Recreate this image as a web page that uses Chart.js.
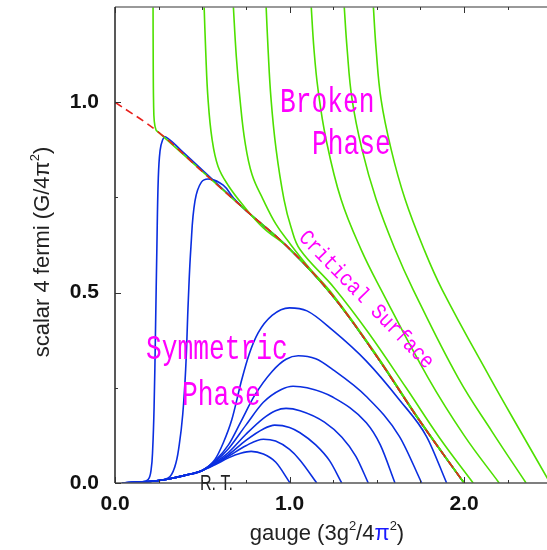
<!DOCTYPE html>
<html>
<head>
<meta charset="utf-8">
<script src="https://cdn.jsdelivr.net/npm/chart.js@4.4.1/dist/chart.umd.min.js"></script>
<style>
  html, body { margin: 0; padding: 0; background: #fff; }
</style>
</head>
<body>
<canvas id="flow" width="547" height="550"></canvas>
<script>
// axis ticks
const xTickValues = [0, 1, 2];
const xTickLabels = ['0.0', '1.0', '2.0'];
const xMinorTicks = [0.25, 0.5, 0.75, 1.25, 1.5, 1.75, 2.25];
const yTickValues = [0, 0.5, 1.0];
const yTickLabels = ['0.0', '0.5', '1.0'];
const yMinorTicks = [0.25, 0.75];

// critical surface (red dashed)
const critical = [[0, 1.0], [0.25, 0.921], [0.5, 0.818], [0.75, 0.716], [1.0, 0.615], [1.25, 0.49], [1.5, 0.332], [1.75, 0.16], [2.0, 0]];
const criticalTail = [[0.5, 0.818], [0.75, 0.716], [1.0, 0.615], [1.25, 0.49], [1.5, 0.332], [1.75, 0.16], [2.0, 0]];

// symmetric phase flows (blue)
const trunk = [[0.04, 0], [0.2, 0.004], [0.3, 0.01], [0.4, 0.02], [0.5, 0.033]];
const blueSteep1 = [[0.04, 0], [0.15, 0.003], [0.19, 0.009], [0.207, 0.035], [0.216, 0.09], [0.224, 0.2], [0.232, 0.4], [0.24, 0.62], [0.248, 0.8], [0.258, 0.872], [0.272, 0.9], [0.29, 0.909], [0.38, 0.873]];
const blueSteep2 = [[0.04, 0], [0.2, 0.005], [0.305, 0.013], [0.343, 0.043], [0.368, 0.1], [0.388, 0.18], [0.405, 0.3], [0.42, 0.48], [0.435, 0.62], [0.458, 0.74], [0.495, 0.79], [0.544, 0.798], [0.62, 0.782], [0.68, 0.748]];
const humpA = [[0.573, 0.062], [0.62, 0.105], [0.669, 0.166], [0.726, 0.271], [0.77, 0.34], [0.82, 0.394], [0.9, 0.44], [1.0, 0.46], [1.1, 0.452], [1.25, 0.40], [1.44, 0.32], [1.63, 0.218], [1.785, 0.122], [1.9, 0]];
const humpB = [[0.573, 0.058], [0.65, 0.1], [0.72, 0.16], [0.8, 0.23], [0.9, 0.293], [0.98, 0.325], [1.05, 0.334], [1.15, 0.326], [1.25, 0.297], [1.44, 0.227], [1.63, 0.122], [1.757, 0]];
const humpC = [[0.573, 0.056], [0.65, 0.09], [0.75, 0.152], [0.85, 0.212], [0.95, 0.245], [1.02, 0.254], [1.1, 0.25], [1.25, 0.225], [1.44, 0.158], [1.52, 0.1], [1.604, 0]];
const humpD = [[0.573, 0.054], [0.65, 0.08], [0.75, 0.128], [0.85, 0.17], [0.92, 0.19], [0.98, 0.196], [1.06, 0.19], [1.2, 0.16], [1.3, 0.12], [1.38, 0.07], [1.451, 0]];
const humpE = [[0.573, 0.052], [0.65, 0.074], [0.75, 0.112], [0.85, 0.142], [0.915, 0.152], [1.0, 0.146], [1.06, 0.132], [1.15, 0.1], [1.23, 0.058], [1.299, 0]];
const humpF = [[0.573, 0.05], [0.65, 0.07], [0.75, 0.098], [0.85, 0.115], [0.92, 0.11], [1.0, 0.088], [1.06, 0.06], [1.156, 0]];
const humpG = [[0.573, 0.048], [0.65, 0.066], [0.72, 0.078], [0.78, 0.083], [0.85, 0.076], [0.92, 0.055], [1.003, 0]];

// broken phase flows (green)
const green1 = [[0.218, 1.26], [0.219, 1.1], [0.221, 1.0], [0.225, 0.95], [0.235, 0.927], [0.25, 0.921]];
const green2 = [[0.51, 1.26], [0.52, 1.13], [0.533, 1.008], [0.556, 0.903], [0.59, 0.832], [0.648, 0.782], [0.733, 0.73], [0.85, 0.67]];
const green3 = [[0.677, 1.26], [0.695, 1.12], [0.716, 1.008], [0.745, 0.895], [0.785, 0.81], [0.848, 0.745], [0.923, 0.679], [1.0, 0.63], [1.1, 0.572], [1.25, 0.494], [1.5, 0.335], [1.75, 0.162], [2.0, 0]];
const green4 = [[0.865, 1.26], [0.877, 1.139], [0.894, 1.008], [0.923, 0.876], [0.968, 0.745], [1.009, 0.671], [1.06, 0.613], [1.255, 0.513], [1.45, 0.396], [1.668, 0.25], [1.862, 0.117], [2.052, 0]];
const green5 = [[1.123, 1.26], [1.14, 1.139], [1.163, 1.034], [1.209, 0.903], [1.295, 0.745], [1.41, 0.613], [1.524, 0.508], [1.794, 0.276], [2.0, 0.125], [2.201, 0]];
const green6 = [[1.312, 1.26], [1.33, 1.139], [1.358, 1.008], [1.415, 0.876], [1.496, 0.745], [1.605, 0.613], [1.708, 0.508], [1.966, 0.276], [2.16, 0.135], [2.355, 0]];
const green7 = [[1.479, 1.26], [1.496, 1.139], [1.524, 1.008], [1.582, 0.876], [1.662, 0.745], [1.771, 0.613], [1.874, 0.508], [2.149, 0.276], [2.33, 0.13], [2.493, 0]];

const RED = '#e8201c';
const BLUE = '#0a2ee0';
const GREEN = '#4ee000';

function line(points, color, order, mode, dash) {
  return {
    data: points.map(([x, y]) => ({ x, y })),
    showLine: true,
    borderColor: color,
    borderWidth: 1.6,
    borderDash: dash || [],
    pointRadius: 0,
    tension: 0.4,
    cubicInterpolationMode: mode,
    order: order
  };
}

const datasets = [
  line(critical, RED, 0, 'default', [8, 5]),
  line(green1.concat(criticalTail), GREEN, 1, 'default'),
  line(green2.concat(criticalTail.slice(2)), GREEN, 1, 'default'),
  line(green3, GREEN, 1, 'default'),
  line(green4, GREEN, 1, 'default'),
  line(green5, GREEN, 1, 'default'),
  line(green6, GREEN, 1, 'default'),
  line(green7, GREEN, 1, 'default'),
  line(blueSteep1.concat(criticalTail.slice(1)), BLUE, 2, 'default'),
  line(blueSteep2.concat(criticalTail.slice(1)), BLUE, 2, 'default'),
  line(trunk.concat(humpA), BLUE, 2, 'monotone'),
  line(trunk.concat(humpB), BLUE, 2, 'monotone'),
  line(trunk.concat(humpC), BLUE, 2, 'monotone'),
  line(trunk.concat(humpD), BLUE, 2, 'monotone'),
  line(trunk.concat(humpE), BLUE, 2, 'monotone'),
  line(trunk.concat(humpF), BLUE, 2, 'monotone'),
  line(trunk.concat(humpG), BLUE, 2, 'monotone')
];

function richText(ctx, parts, x, y) {
  let w = 0;
  parts.forEach(p => { ctx.font = p[1] + 'px "Liberation Sans"'; w += ctx.measureText(p[0]).width; });
  let cx = x - w / 2;
  parts.forEach(p => {
    ctx.font = p[1] + 'px "Liberation Sans"';
    ctx.fillStyle = p[3] || '#222';
    ctx.fillText(p[0], cx, y + p[2]);
    cx += ctx.measureText(p[0]).width;
  });
}

function label(ctx, text, x, y, size, sx, color, angle, align) {
  ctx.save();
  ctx.translate(x, y);
  if (angle) ctx.rotate(angle);
  ctx.scale(sx, 1);
  ctx.font = size + 'px "Liberation Mono"';
  ctx.fillStyle = color;
  ctx.textAlign = align || 'left';
  ctx.textBaseline = angle ? 'middle' : 'alphabetic';
  ctx.fillText(text, 0, 0);
  ctx.restore();
}

const decor = {
  id: 'decor',
  afterDatasetsDraw(chart) {
    const { ctx, chartArea: a, scales: { x, y } } = chart;
    ctx.save();
    // frame
    ctx.lineWidth = 1.5;
    ctx.strokeStyle = '#777';
    ctx.beginPath(); ctx.moveTo(a.left, a.top); ctx.lineTo(a.right, a.top); ctx.stroke();
    ctx.strokeStyle = '#555';
    ctx.beginPath(); ctx.moveTo(a.left, a.bottom); ctx.lineTo(a.right, a.bottom); ctx.stroke();
    ctx.strokeStyle = '#222';
    ctx.beginPath(); ctx.moveTo(a.left, a.top); ctx.lineTo(a.left, a.bottom); ctx.stroke();

    // inward ticks
    ctx.lineWidth = 1;
    ctx.strokeStyle = '#333';
    const xt = (v, len) => {
      const px = Math.round(x.getPixelForValue(v)) + 0.5;
      ctx.beginPath();
      ctx.moveTo(px, a.bottom); ctx.lineTo(px, a.bottom - len);
      ctx.moveTo(px, a.top); ctx.lineTo(px, a.top + len);
      ctx.stroke();
    };
    const yt = (v, len) => {
      const py = Math.round(y.getPixelForValue(v)) + 0.5;
      ctx.beginPath();
      ctx.moveTo(a.left, py); ctx.lineTo(a.left + len, py);
      ctx.stroke();
    };
    xTickValues.forEach(v => xt(v, 6));
    xMinorTicks.forEach(v => xt(v, 3));
    yTickValues.forEach(v => yt(v, 6));
    yMinorTicks.forEach(v => yt(v, 3));

    // axis titles
    ctx.textAlign = 'left';
    ctx.textBaseline = 'alphabetic';
    richText(ctx, [['gauge (3g', 22, 0], ['2', 13, -10], ['/4', 22, 0], ['\u03c0', 22, 0, '#1a1aff'], ['2', 13, -10], [')', 22, 0]], 327, 540);
    ctx.save();
    ctx.translate(49, 252);
    ctx.rotate(-Math.PI / 2);
    richText(ctx, [['scalar 4 fermi (G/4\u03c0', 22, 0], ['2', 13, -10], [')', 22, 0]], 0, 0);
    ctx.restore();

    // annotations
    const MAG = '#ff00ff';
    label(ctx, 'Broken', 280, 112, 35, 0.75, MAG);
    label(ctx, 'Phase', 312, 154, 35, 0.75, MAG);
    label(ctx, 'Symmetric', 146, 359, 35, 0.75, MAG);
    label(ctx, 'Phase', 182, 405, 35, 0.75, MAG);
    label(ctx, 'Critical Surface', 366, 300, 22, 0.87, MAG, Math.atan2(123, 120), 'center');
    ctx.save();
    ctx.translate(200, 490);
    ctx.scale(0.73, 1);
    ctx.font = '22px "Liberation Sans"';
    ctx.fillStyle = '#222';
    ctx.fillText('R. T.', 0, 0);
    ctx.restore();
    ctx.restore();
  }
};

new Chart(document.getElementById('flow'), {
  type: 'scatter',
  data: { datasets },
  options: {
    responsive: false,
    animation: false,
    devicePixelRatio: 1,
    layout: { padding: { top: 7, right: 0, left: 0, bottom: 0 } },
    plugins: { legend: { display: false }, tooltip: { enabled: false } },
    scales: {
      x: {
        type: 'linear', min: 0, max: 2.475,
        grid: { display: false, drawTicks: false },
        border: { display: false },
        ticks: {
          padding: 9, color: '#111', maxRotation: 0, autoSkip: false,
          font: { family: 'Liberation Sans', size: 21, weight: 'bold' },
          callback: (v, i) => xTickLabels[i]
        },
        afterBuildTicks: s => { s.ticks = xTickValues.map(v => ({ value: v })); },
        afterFit: s => { s.height = 67; s.paddingLeft = 0; s.paddingRight = 0; }
      },
      y: {
        type: 'linear', min: 0, max: 1.25,
        grid: { display: false, drawTicks: false },
        border: { display: false },
        ticks: {
          padding: 16, color: '#111', autoSkip: false,
          font: { family: 'Liberation Sans', size: 21, weight: 'bold' },
          callback: (v, i) => yTickLabels[i]
        },
        afterBuildTicks: s => { s.ticks = yTickValues.map(v => ({ value: v })); },
        afterFit: s => { s.width = 115; s.paddingTop = 0; s.paddingBottom = 0; }
      }
    }
  },
  plugins: [decor]
});
</script>
</body>
</html>
